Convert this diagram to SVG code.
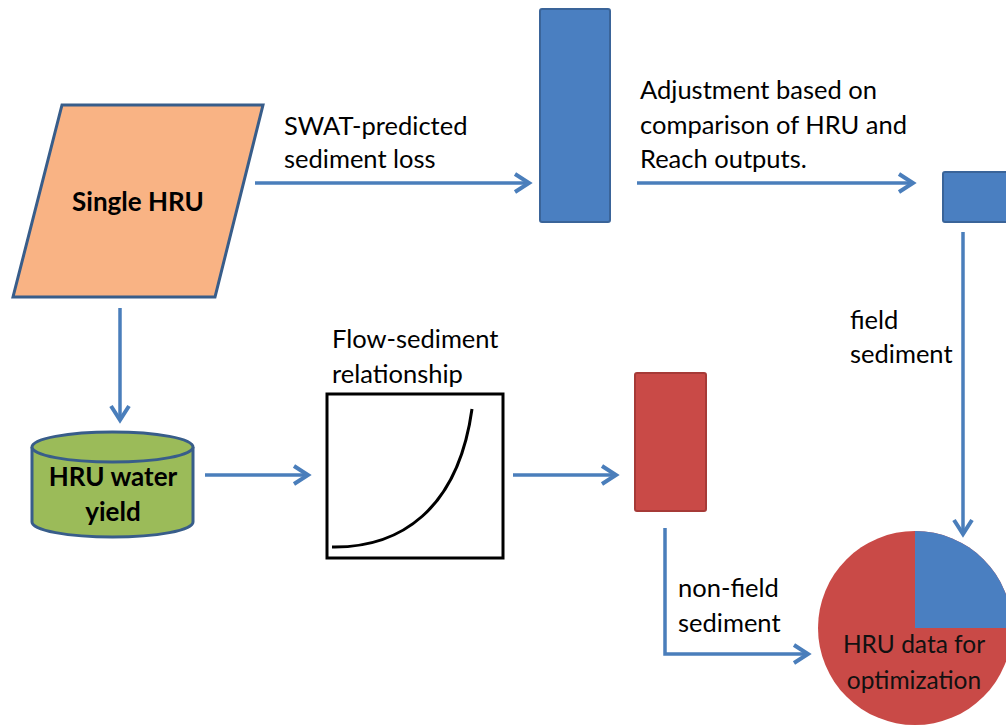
<svg xmlns="http://www.w3.org/2000/svg" width="1006" height="728" viewBox="0 0 1006 728">
<defs>
<marker id="arr" markerUnits="userSpaceOnUse" markerWidth="24" markerHeight="24" viewBox="0 0 24 24" refX="20" refY="12" orient="auto">
<path d="M6,3 L20,12 L6,21" fill="none" stroke="#4A7EBB" stroke-width="4" stroke-linejoin="miter"/>
</marker>
</defs>
<style>
.t{font-family:Lato,"Liberation Sans",sans-serif;font-size:25.5px;fill:#000}
.b{font-weight:bold;font-size:26px}
.p{font-size:24.5px;fill:#111}
.c{fill:none;stroke:#4A7EBB;stroke-width:3.5}
</style>
<rect width="1006" height="728" fill="#fff"/>
<g id="connectors">
<line class="c" x1="120" y1="308" x2="120" y2="420" marker-end="url(#arr)"/>
<line class="c" x1="255" y1="183" x2="529" y2="183" marker-end="url(#arr)"/>
<line class="c" x1="637" y1="183" x2="913" y2="183" marker-end="url(#arr)"/>
<line class="c" x1="963" y1="232" x2="963" y2="534" marker-end="url(#arr)"/>
<line class="c" x1="205" y1="475" x2="308" y2="475" marker-end="url(#arr)"/>
<line class="c" x1="513" y1="475" x2="616" y2="475" marker-end="url(#arr)"/>
<polyline class="c" points="665,528 665,654 808,654" marker-end="url(#arr)"/>
<text class="t" x="284" y="135">SWAT-predicted</text>
<text class="t" x="284" y="168">sediment loss</text>
<text class="t" x="640" y="99">Adjustment based on</text>
<text class="t" x="640" y="134">comparison of HRU and</text>
<text class="t" x="640" y="168">Reach outputs.</text>
<text class="t" x="850" y="329">field</text>
<text class="t" x="850" y="363">sediment</text>
<text class="t" x="678" y="597">non-field</text>
<text class="t" x="678" y="632">sediment</text>
</g>
<g id="single-hru">
<polygon points="62,105 263,105 215,297 13,297" fill="#F9B384" stroke="#385D8A" stroke-width="3"/>
<text class="t b" x="138" y="211" text-anchor="middle">Single HRU</text>
</g>
<g id="hru-water-yield">
<path d="M32,447 L32,522 A80.5,15 0 0 0 193,522 L193,447" fill="#9BBB59" stroke="#385D8A" stroke-width="3"/>
<ellipse cx="112.5" cy="447" rx="80.5" ry="15" fill="#9BBB59" stroke="#385D8A" stroke-width="3"/>
<text class="t b" x="113" y="486" text-anchor="middle">HRU water</text>
<text class="t b" x="113" y="521" text-anchor="middle">yield</text>
</g>
<g id="blue-bar">
<rect x="540" y="9" width="70" height="213" rx="2" fill="#4A7FC1" stroke="#3A6499" stroke-width="2"/>
</g>
<g id="blue-small">
<rect x="943" y="172" width="70" height="50" rx="2" fill="#4A7FC1" stroke="#3A6499" stroke-width="2"/>
</g>
<g id="flow-sediment">
<text class="t" x="332" y="348">Flow-sediment</text>
<text class="t" x="332" y="383">relationship</text>
<rect x="327" y="394" width="176" height="164" fill="#fff" stroke="#000" stroke-width="3"/>
<path d="M332,547 C400,548 458,510 472,409" fill="none" stroke="#000" stroke-width="3"/>
</g>
<g id="red-bar">
<rect x="635" y="373" width="71" height="138" rx="2" fill="#C94A47" stroke="#A63A37" stroke-width="2"/>
</g>
<g id="pie">
<circle cx="915" cy="628" r="97" fill="#C94A47"/>
<path d="M915,628 L915,531 A97,97 0 0 1 1012,628 Z" fill="#4A7FC1"/>
<text class="t p" x="914" y="653" text-anchor="middle">HRU data for</text>
<text class="t p" x="914" y="689" text-anchor="middle">optimization</text>
</g>
</svg>
